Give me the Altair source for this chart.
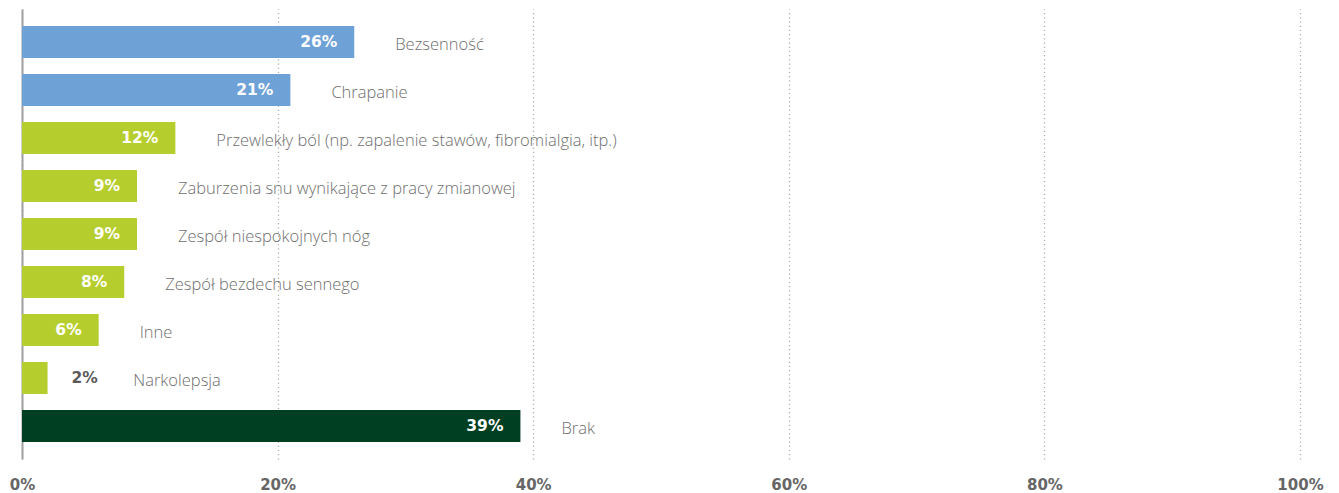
import altair as alt
import pandas as pd

categories = ["Bezsenność", "Chrapanie", "Przewlekły ból (np. zapalenie stawów, fibromialgia, itp.)",
              "Zaburzenia snu wynikające z pracy zmianowej", "Zespół niespokojnych nóg",
              "Zespół bezdechu sennego", "Inne", "Narkolepsja", "Brak"]
values = [26, 21, 12, 9, 9, 8, 6, 2, 39]
groups = ["blue", "blue", "green", "green", "green", "green", "green", "green", "dark"]
value_labels = ["26%", "21%", "12%", "9%", "9%", "8%", "6%", "2%", "39%"]
x_ticks = [0, 20, 40, 60, 80, 100]

df = pd.DataFrame({"cat": categories, "value": values, "group": groups, "vlabel": value_labels})

y_enc = alt.Y("cat:N", sort=categories,
              scale=alt.Scale(paddingInner=0.333, paddingOuter=0.354),
              axis=alt.Axis(title=None, labels=False, ticks=False, grid=False,
                            domain=True, domainColor="#a0a0a0", domainWidth=2))

x_scale = alt.Scale(domain=[0, 100], nice=False)

bars = alt.Chart(df).mark_bar().encode(
    x=alt.X("value:Q", scale=x_scale,
            axis=alt.Axis(title=None, values=x_ticks, labelExpr="datum.value + '%'",
                          domain=False, ticks=False, grid=True, gridColor="#b0b0b0",
                          gridDash=[1.2, 3], gridWidth=1.3, labelPadding=18, labelFlush=False,
                          labelFont="DejaVu Sans", labelFontWeight="bold", labelFontSize=15,
                          labelColor="#666666")),
    y=y_enc,
    color=alt.Color("group:N", legend=None,
                    scale=alt.Scale(domain=["blue", "green", "dark"],
                                    range=["#6ea1d6", "#b6cd2e", "#013f22"])),
)

inside = alt.Chart(df).transform_filter("datum.value >= 5").mark_text(
    align="right", baseline="middle", dx=-17, font="DejaVu Sans", fontWeight="bold",
    fontSize=15.5, color="white"
).encode(x=alt.X("value:Q", scale=x_scale), y=alt.Y("cat:N", sort=categories), text="vlabel:N")

outside = alt.Chart(df).transform_filter("datum.value < 5").mark_text(
    align="left", baseline="middle", dx=24, font="DejaVu Sans", fontWeight="bold",
    fontSize=15.5, color="#5a5a5a"
).encode(x=alt.X("value:Q", scale=x_scale), y=alt.Y("cat:N", sort=categories), text="vlabel:N")

cat_labels = alt.Chart(df).transform_calculate(
    lx="max(datum.value, 5.5)"
).mark_text(
    align="left", baseline="middle", dx=41, dy=3, font="Open Sans", fontWeight=300,
    fontSize=16.5, color="#6e6e6e"
).encode(x=alt.X("lx:Q", scale=x_scale), y=alt.Y("cat:N", sort=categories), text="cat:N")

chart = alt.layer(bars, inside, outside, cat_labels).properties(
    width=1278, height=450,
    autosize=alt.AutoSizeParams(type="none"),
    padding={"left": 14, "top": 1, "right": 25, "bottom": 35},
).configure_view(stroke=None)

chart.save("out.html", embed_options={"renderer": "svg", "actions": False})
